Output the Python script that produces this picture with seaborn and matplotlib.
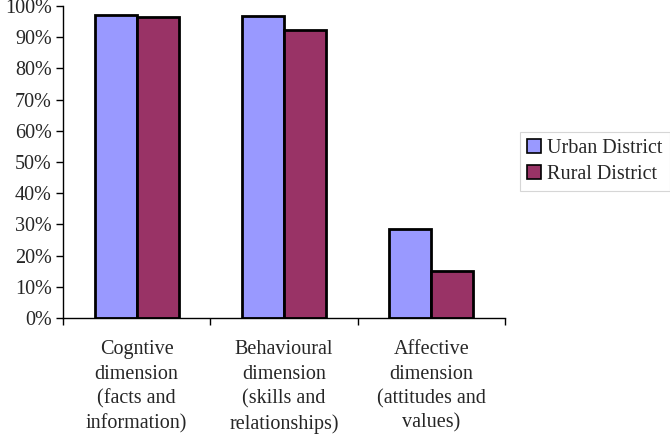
import matplotlib
matplotlib.use("Agg")
import matplotlib.pyplot as plt
import seaborn as sns
import pandas as pd
from matplotlib.ticker import FixedLocator, PercentFormatter
from matplotlib.patches import Patch

categories = ["Cogntive\ndimension\n(facts and\ninformation)",
              "Behavioural\ndimension\n(skills and\nrelationships)",
              "Affective\ndimension\n(attitudes and\nvalues)"]
urban = [97.1, 96.9, 28.5]
rural = [96.5, 92.3, 15.2]
series = ["Urban District", "Rural District"]
colors = ["#9999FF", "#993366"]

df = pd.DataFrame({
    "cat": categories * 2,
    "val": urban + rural,
    "series": [series[0]] * 3 + [series[1]] * 3,
})

sns.set_theme(style="white")
plt.rcParams["font.family"] = ["Liberation Serif", "DejaVu Serif"]

fs = 14.5
fig = plt.figure(figsize=(6.7, 4.37), dpi=100)
ax = fig.add_axes([63/670, 1-318/437, (505-63)/670, (318-6)/437])
sns.barplot(data=df, x="cat", y="val", hue="series", palette=colors,
            width=0.57, edgecolor="black", linewidth=2, ax=ax, legend=False,
            saturation=1)

ax.set_ylim(0, 100)
ax.set_xlim(-0.5, 2.5)
ax.set_yticks(range(0, 101, 10))
ax.yaxis.set_major_formatter(PercentFormatter(decimals=0))
ax.set_xlabel("")
ax.set_ylabel("")
ax.xaxis.set_minor_locator(FixedLocator([-0.5, 0.5, 1.5, 2.5]))
ax.tick_params(axis="x", which="major", length=0, pad=16, labelsize=fs)
ax.tick_params(axis="x", which="minor", length=5, width=1, color="black", direction="out", bottom=True)
ax.tick_params(axis="y", which="major", length=5, width=1, color="black", direction="out", left=True, labelsize=fs, pad=3)
for lab in ax.get_xticklabels():
    lab.set_linespacing(1.38)
    lab.set_ha("center")
for s in ["top", "right"]:
    ax.spines[s].set_visible(False)
for s in ["left", "bottom"]:
    ax.spines[s].set_color("black")
    ax.spines[s].set_linewidth(1)

handles = [Patch(facecolor=c, edgecolor="black", linewidth=1.2, label=l) for c, l in zip(colors, series)]
leg = fig.legend(handles=handles, loc="upper left", bbox_to_anchor=(520/670, 1-132/437),
                 fontsize=fs, frameon=True, fancybox=False, handlelength=0.7, handleheight=0.7,
                 handletextpad=0.3, borderpad=0.35, labelspacing=0.35, borderaxespad=0)
leg.get_frame().set_edgecolor("#cccccc")
leg.get_frame().set_linewidth(0.8)

fig.savefig("out.png", dpi=100)
